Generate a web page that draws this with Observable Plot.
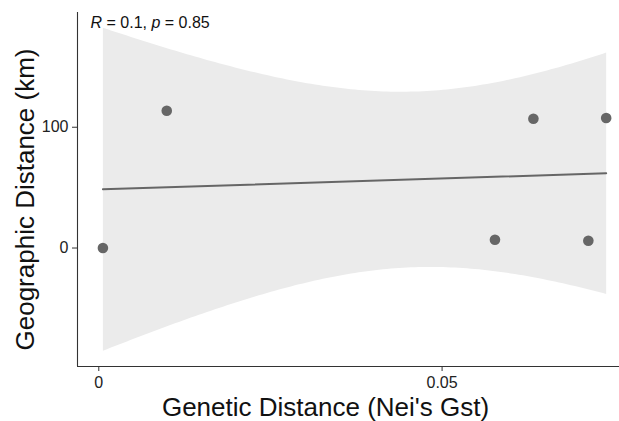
<!DOCTYPE html>
<html>
<head>
<meta charset="utf-8">
<script src="https://cdn.jsdelivr.net/npm/d3@7"></script>
<script src="https://cdn.jsdelivr.net/npm/@observablehq/plot@0.6"></script>
<style>
  html, body { margin: 0; padding: 0; background: #fff; }
  #chart { width: 619px; height: 421px; }
</style>
</head>
<body>
<div id="chart"></div>
<script>
// ---- data ----
const gst = [0.0006, 0.0099, 0.0577, 0.0633, 0.0713, 0.0739];
const km  = [0, 113.7, 6.9, 107, 6, 107.6];
const xTicks = [0, 0.05];
const xTickLabels = ["0", "0.05"];
const yTicks = [0, 100];
const xTitle = "Genetic Distance (Nei's Gst)";
const yTitle = "Geographic Distance (km)";
const annotParts = [["R", "italic"], [" = 0.1, ", "normal"], ["p", "italic"], [" = 0.85", "normal"]];
const annotText = annotParts.map(d => d[0]).join("");

const data = gst.map((g, i) => ({gst: g, km: km[i]}));

const xDomain = [-0.0031, 0.07584];
const yDomain = [-98.1, 195];
const font = "'Liberation Sans', Arial, Helvetica, sans-serif";

const svg = Plot.plot({
  width: 619,
  height: 421,
  marginLeft: 77,
  marginRight: 0,
  marginTop: 12,
  marginBottom: 55,
  style: {fontFamily: font, fontSize: "16px", background: "#fff", color: "#333"},
  x: {domain: xDomain},
  y: {domain: yDomain},
  marks: [
    // confidence band
    Plot.linearRegressionY(data, {x: "gst", y: "km", ci: 0.95, stroke: "none", fill: "#ebebeb", fillOpacity: 1}),
    // points
    Plot.dot(data, {x: "gst", y: "km", r: 5.3, fill: "#666666", stroke: "none"}),
    // regression line
    Plot.linearRegressionY(data, {x: "gst", y: "km", ci: 0, stroke: "#666666", strokeWidth: 2}),
    // axis lines
    Plot.ruleY([yDomain[0]], {stroke: "#333", strokeWidth: 1.1}),
    Plot.ruleX([xDomain[0]], {stroke: "#333", strokeWidth: 1.1}),
    Plot.axisX({ticks: xTicks, tickFormat: d => xTickLabels[xTicks.indexOf(d)], tickSize: 5, tickPadding: 5, label: null, fontSize: 16, stroke: "#333", fill: "#222"}),
    Plot.axisY({ticks: yTicks, tickFormat: d => String(d), tickSize: 5, tickPadding: 4, label: null, fontSize: 16, stroke: "#333", fill: "#222"}),
    // axis titles
    Plot.text([xTitle], {frameAnchor: "bottom", text: d => d, dx: -23, dy: 40.7, fontSize: 26, fill: "#111", lineAnchor: "middle", textAnchor: "middle"}),
    Plot.text([yTitle], {frameAnchor: "left", text: d => d, rotate: -90, dx: -52.3, dy: 10, fontSize: 26, fill: "#111", lineAnchor: "middle", textAnchor: "middle"}),
    // correlation annotation
    Plot.text([annotText], {frameAnchor: "top-left", text: d => d, dx: 13, dy: 10.2, fontSize: 16, fill: "#111", textAnchor: "start", lineAnchor: "middle"})
  ]
});

// italicize R and p in the annotation
svg.querySelectorAll("text").forEach(t => {
  if (t.textContent === annotText) {
    t.textContent = "";
    annotParts.forEach(([s, st]) => {
      const ts = document.createElementNS("http://www.w3.org/2000/svg", "tspan");
      ts.textContent = s;
      ts.setAttribute("font-style", st);
      t.appendChild(ts);
    });
  }
});

document.getElementById("chart").appendChild(svg);
</script>
</body>
</html>
